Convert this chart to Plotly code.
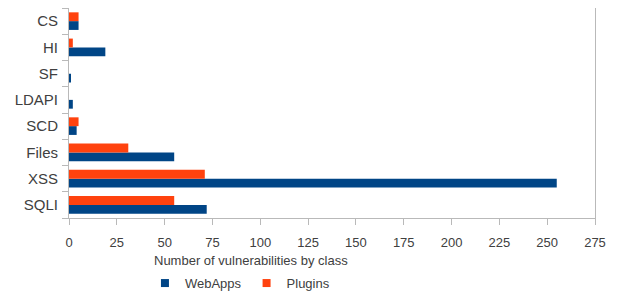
import plotly.graph_objects as go

categories = ["SQLI", "XSS", "Files", "SCD", "LDAPI", "SF", "HI", "CS"]
webapps = [72, 255, 55, 4, 2, 1, 19, 5]
plugins = [55, 71, 31, 5, 0, 0, 2, 5]
x_ticks = list(range(0, 276, 25))

BLUE = "#004586"
ORANGE = "#ff420e"
GRID = "rgb(185,185,185)"
TXT = "#404040"
FONT = "Liberation Sans, Arial, sans-serif"

fig = go.Figure()
fig.add_trace(go.Bar(y=categories, x=webapps, orientation="h", name="WebApps",
                     marker=dict(color=BLUE, line=dict(width=0)), showlegend=False))
fig.add_trace(go.Bar(y=categories, x=plugins, orientation="h", name="Plugins",
                     marker=dict(color=ORANGE, line=dict(width=0)), showlegend=False))
# legend entries with small square swatches
fig.add_trace(go.Scatter(x=[None], y=[None], mode="markers", name="WebApps",
                         marker=dict(symbol="square", size=8, color=BLUE)))
fig.add_trace(go.Scatter(x=[None], y=[None], mode="markers", name="Plugins",
                         marker=dict(symbol="square", size=8, color=ORANGE)))

# page body has an 8px default margin, so the figure is sized/offset to compensate
fig.update_layout(
    width=612, height=285,
    margin=dict(l=61, r=25, t=0, b=75, autoexpand=False),
    plot_bgcolor="white", paper_bgcolor="white",
    barmode="group", bargap=0.33, bargroupgap=0,
    font=dict(family=FONT, color=TXT, size=13),
    legend=dict(orientation="h", x=0.325, xanchor="center", y=-0.31, yanchor="middle",
                font=dict(size=13, color=TXT), traceorder="normal", itemwidth=30,
                tracegroupgap=0),
    xaxis=dict(range=[0, 275], tickvals=x_ticks, showgrid=False, zeroline=False,
               showline=True, linecolor=GRID, linewidth=1, mirror=True,
               ticks="outside", ticklen=6, tickcolor=GRID, automargin=False,
               ticklabelstandoff=6,
               tickfont=dict(size=13, color=TXT)),
    yaxis=dict(type="category", categoryorder="array", categoryarray=categories,
               showgrid=False, zeroline=False,
               showline=True, linecolor=GRID, linewidth=1, mirror=True,
               ticks="outside", ticklen=6, tickcolor=GRID, tickson="boundaries",
               automargin=False, ticklabelstandoff=7,
               tickfont=dict(size=15, color=TXT)),
    annotations=[dict(text="Number of vulnerabilities by class", xref="paper", yref="paper",
                      x=0.346, y=-0.203, xanchor="center", yanchor="middle",
                      showarrow=False, font=dict(size=13, color=TXT))],
)

fig.write_html("out.html")
